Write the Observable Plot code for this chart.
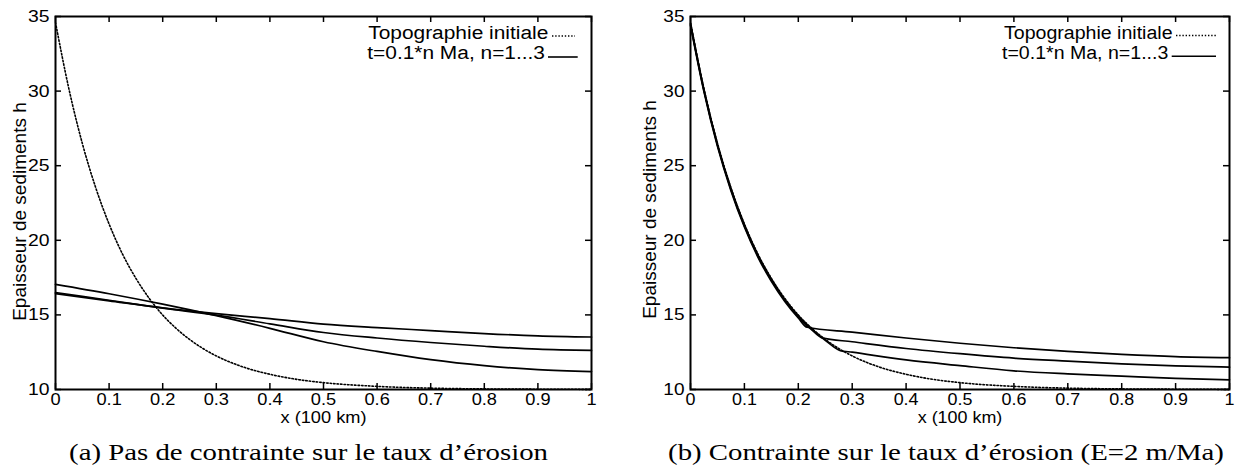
<!DOCTYPE html>
<html><head><meta charset="utf-8">
<script src="https://cdn.jsdelivr.net/npm/d3@7"></script>
<script src="https://cdn.jsdelivr.net/npm/@observablehq/plot@0.6"></script>
<style>
html,body{margin:0;padding:0;background:#fff;}
#wrap{position:relative;width:1237px;height:467px;overflow:hidden;background:#fff;}
.panel{position:absolute;top:0;}
#overlay{position:absolute;left:0;top:0;pointer-events:none;}
</style></head><body>
<div id="wrap">
<div id="pa" class="panel" style="left:0px"></div>
<div id="pb" class="panel" style="left:630px"></div>
<svg id="overlay" width="1237" height="467"></svg>
</div>
<script>
// ---- tick values and labels ----
const xTicks = [0, 0.1, 0.2, 0.3, 0.4, 0.5, 0.6, 0.7, 0.8, 0.9, 1];
const xTickLabels = ["0", "0.1", "0.2", "0.3", "0.4", "0.5", "0.6", "0.7", "0.8", "0.9", "1"];
const yTicks = [10, 15, 20, 25, 30, 35];
const yTickLabels = ["10", "15", "20", "25", "30", "35"];

// ---- initial topography (dotted, both panels) ----
const xInit = [0, 0.025, 0.05, 0.075, 0.1, 0.125, 0.15, 0.175, 0.2, 0.225, 0.25, 0.275, 0.3, 0.35, 0.4, 0.45, 0.5, 0.6, 0.7, 0.8, 0.9, 1.0];
const hInit = [34.6, 30.15, 26.5, 23.53, 21.09, 19.08, 17.45, 16.1, 14.99, 14.1, 13.36, 12.75, 12.25, 11.51, 11.02, 10.68, 10.46, 10.21, 10.09, 10.04, 10.02, 10.01];

// ---- panel (a): t = 0.1, 0.2, 0.3 Ma ----
const xA = [0, 0.1, 0.2, 0.3, 0.4, 0.5, 0.6, 0.7, 0.8, 0.9, 1.0];
const hA1 = [17.05, 16.42, 15.72, 14.95, 14.1, 13.2, 12.55, 12.0, 11.6, 11.33, 11.2];
const hA2 = [16.5, 15.98, 15.46, 14.98, 14.4, 13.82, 13.45, 13.15, 12.9, 12.7, 12.62];
const hA3 = [16.42, 15.94, 15.47, 15.08, 14.75, 14.38, 14.15, 13.95, 13.75, 13.6, 13.52];

// ---- panel (b): t = 0.1, 0.2, 0.3 Ma ----
const xB1 = [0, 0.025, 0.05, 0.075, 0.1, 0.125, 0.15, 0.175, 0.2, 0.225, 0.25, 0.278, 0.3, 0.4, 0.5, 0.6, 0.7, 0.8, 0.9, 1.0];
const hB1 = [34.54, 30.09, 26.44, 23.47, 21.03, 19.02, 17.39, 16.04, 14.93, 14.04, 13.3, 12.61, 12.5, 11.98, 11.6, 11.25, 11.05, 10.9, 10.75, 10.65];
const xB2 = [0, 0.025, 0.05, 0.075, 0.1, 0.125, 0.15, 0.175, 0.2, 0.225, 0.244, 0.3, 0.4, 0.5, 0.6, 0.7, 0.8, 0.9, 1.0];
const hB2 = [34.48, 30.03, 26.38, 23.41, 20.97, 18.96, 17.33, 15.98, 14.87, 14.0, 13.46, 13.2, 12.75, 12.4, 12.1, 11.9, 11.72, 11.58, 11.5];
const xB3 = [0, 0.025, 0.05, 0.075, 0.1, 0.125, 0.15, 0.175, 0.2, 0.2165, 0.3, 0.4, 0.5, 0.6, 0.7, 0.8, 0.9, 1.0];
const hB3 = [34.4, 29.95, 26.3, 23.33, 20.89, 18.88, 17.25, 15.9, 14.79, 14.17, 13.85, 13.45, 13.1, 12.8, 12.55, 12.35, 12.2, 12.13];

const yLabel = "Epaisseur de sediments h";
const xLabel = "x (100 km)";

function rows(xs, hs, s) { return xs.map((x, i) => ({x, h: hs[i], s})); }

const FONT = "'Liberation Sans', Arial, Helvetica, sans-serif";

function stretch(svg, s) {
  svg.querySelectorAll("text").forEach(t => {
    const tr = t.getAttribute("transform") || "";
    if (tr.includes("rotate")) return;
    let extra = "";
    const x = t.getAttribute("x");
    if (x != null && !isNaN(+x)) { extra = `translate(${+x},0) `; t.removeAttribute("x"); }
    t.setAttribute("transform", `${tr} ${extra}scale(${s},1)`.trim());
  });
}

function panel({width, marginLeft, marginRight, solids, ylDx, ylDy, sx}) {
  const height = 420, marginTop = 16, marginBottom = 31;
  const H = height - marginTop - marginBottom;
  const W = width - marginLeft - marginRight;
  const svg = Plot.plot({
    width, height, marginLeft, marginRight, marginTop, marginBottom,
    style: {fontFamily: FONT, fontSize: "16px", background: "white", color: "black", overflow: "visible"},
    x: {domain: [0, 1], axis: null},
    y: {domain: [10, 35], axis: null},
    marks: [
      Plot.line(rows(xInit, hInit, "init"), {x: "x", y: "h", stroke: "black", strokeWidth: 1.6, strokeDasharray: "1.5,2", curve: "monotone-x"}),
      Plot.line(solids, {x: "x", y: "h", z: "s", stroke: "black", strokeWidth: 1.7, curve: "monotone-x"}),
      Plot.ruleX(xTicks, {x: d => d, insetTop: H - 6, stroke: "black", strokeWidth: 1.5}),
      Plot.ruleX(xTicks, {x: d => d, insetBottom: H - 6, stroke: "black", strokeWidth: 1.5}),
      Plot.ruleY(yTicks, {y: d => d, insetRight: W - 6, stroke: "black", strokeWidth: 1.5}),
      Plot.ruleY(yTicks, {y: d => d, insetLeft: W - 6, stroke: "black", strokeWidth: 1.5}),
      Plot.frame({stroke: "black", strokeWidth: 2}),
      Plot.axisX({ticks: xTicks, tickSize: 0, tickPadding: 4, tickFormat: d => xTickLabels[xTicks.indexOf(d)], fontSize: 16, label: null}),
      Plot.axisY({ticks: yTicks, tickSize: 0, tickPadding: 6, tickFormat: d => yTickLabels[yTicks.indexOf(d)], fontSize: 17, label: null}),
      Plot.text([xLabel], {text: d => d, frameAnchor: "bottom", dy: 33, lineAnchor: "bottom", fontSize: 16}),
      Plot.text([yLabel], {text: d => d, frameAnchor: "left", textAnchor: "middle", rotate: -90, dx: ylDx, dy: ylDy, fontSize: 19, lineAnchor: "middle"})
    ]
  });
  stretch(svg, sx);
  return svg;
}

const solidsA = [...rows(xA, hA1, "n1"), ...rows(xA, hA2, "n2"), ...rows(xA, hA3, "n3")];
const solidsB = [...rows(xB1, hB1, "n1"), ...rows(xB2, hB2, "n2"), ...rows(xB3, hB3, "n3")];

document.getElementById("pa").appendChild(panel({width: 610, marginLeft: 55, marginRight: 19, solids: solidsA, ylDx: -36, ylDy: 8.5, sx: 1.14}));
document.getElementById("pb").appendChild(panel({width: 607, marginLeft: 60, marginRight: 8, solids: solidsB, ylDx: -41, ylDy: 6.5, sx: 1.12}));

// ---- legends and captions ----
const legendLabels = ["Topographie initiale", "t=0.1*n Ma, n=1...3"];
const captions = ["(a) Pas de contrainte sur le taux d\u2019\u00e9rosion", "(b) Contrainte sur le taux d\u2019\u00e9rosion (E=2 m/Ma)"];
const ov = d3.select("#overlay");
const legends = [
  {sx: 1.1, t1: [548.3, 39.3], l1: [552, 575, 36], t2: [545, 59.3], l2: [548, 577.7, 57]},
  {sx: 1.03, t1: [1172.5, 38.8], l1: [1176, 1216, 35.5], t2: [1168.3, 59], l2: [1171.7, 1216, 56.3]}
];
legends.forEach(L => {
  const g = ov.append("g").attr("font-family", FONT).attr("font-size", 19).attr("fill", "black");
  g.append("text").attr("text-anchor", "end").attr("transform", `translate(${L.t1[0]},${L.t1[1]}) scale(${L.sx},1)`).text(legendLabels[0]);
  g.append("line").attr("x1", L.l1[0]).attr("x2", L.l1[1]).attr("y1", L.l1[2]).attr("y2", L.l1[2]).attr("stroke", "black").attr("stroke-width", 1.4).attr("stroke-dasharray", "1.4,1.8");
  g.append("text").attr("text-anchor", "end").attr("transform", `translate(${L.t2[0]},${L.t2[1]}) scale(${L.sx},1)`).text(legendLabels[1]);
  g.append("line").attr("x1", L.l2[0]).attr("x2", L.l2[1]).attr("y1", L.l2[2]).attr("y2", L.l2[2]).attr("stroke", "black").attr("stroke-width", 1.6);
});
[[308.5, 460], [946, 460]].forEach((p, i) => {
  ov.append("text").attr("font-family", "'Liberation Serif', 'Times New Roman', serif").attr("font-size", 24)
    .attr("text-anchor", "middle").attr("transform", `translate(${p[0]},${p[1]}) scale(1.2,1)`).text(captions[i]);
});
</script>
</body></html>
